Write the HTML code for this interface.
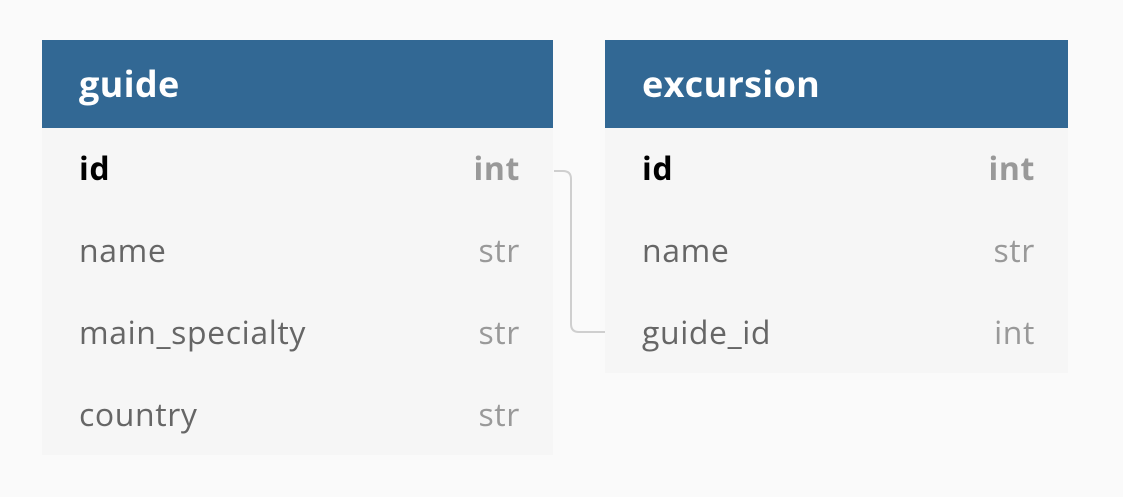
<!DOCTYPE html>
<html><head><meta charset="utf-8"><style>
body{margin:0;width:1123px;height:497px;background:#fafafa;font-family:"Open Sans","Liberation Sans","DejaVu Sans",sans-serif;position:relative;overflow:hidden}
.t{position:absolute;background:#f6f6f6}
.h{height:88px;background:#326894;color:#fff;font-weight:bold;font-size:36px;line-height:88px;padding-left:37px;box-sizing:border-box;letter-spacing:0.3px}
.r{height:82px;position:relative;font-size:32px;line-height:82px;color:#666;letter-spacing:0.6px}
.r .n{position:absolute;left:37px}
.r .ty{position:absolute;right:33px;color:#999}
.r.pk .n{color:#000;font-weight:bold}
.r.pk .ty{font-weight:bold}
</style></head><body>
<div class="t" style="left:42px;top:40px;width:511px;height:415px">
<div class="h">guide</div>
<div class="r pk"><span class="n">id</span><span class="ty">int</span></div>
<div class="r"><span class="n">name</span><span class="ty">str</span></div>
<div class="r"><span class="n">main_specialty</span><span class="ty">str</span></div>
<div class="r"><span class="n">country</span><span class="ty">str</span></div>
</div>
<div class="t" style="left:605px;top:40px;width:463px;height:333px">
<div class="h">excursion</div>
<div class="r pk"><span class="n">id</span><span class="ty">int</span></div>
<div class="r"><span class="n">name</span><span class="ty">str</span></div>
<div class="r"><span class="n">guide_id</span><span class="ty">int</span></div>
</div>
<svg style="position:absolute;left:0;top:0" width="1123" height="497">
<path d="M554 171 H563 Q571 171 571 179 V324 Q571 332 579 332 H605" fill="none" stroke="#cfcfcf" stroke-width="2"/>
</svg>
</body></html>
